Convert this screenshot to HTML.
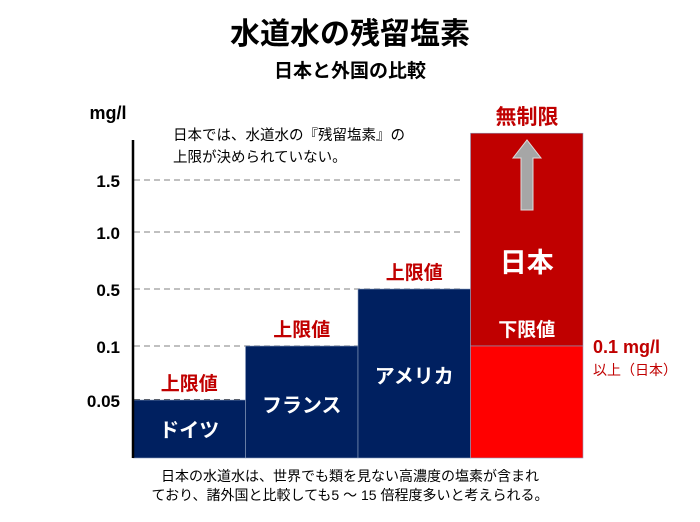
<!DOCTYPE html>
<html><head><meta charset="utf-8"><style>
body{margin:0;background:#fff;}
svg text{font-family:"Liberation Sans","Noto Sans CJK JP",sans-serif;}
</style></head><body>
<svg width="700" height="517" viewBox="0 0 700 517" xmlns="http://www.w3.org/2000/svg">
<text x="350" y="44" text-anchor="middle" font-size="30" font-weight="bold" fill="#000">水道水の残留塩素</text>
<text x="350" y="77" text-anchor="middle" font-size="19" font-weight="bold" fill="#000">日本と外国の比較</text>
<text x="108" y="119" text-anchor="middle" font-size="18" font-weight="bold">mg/l</text>
<text x="173" y="140" font-size="14.5">日本では、水道水の『残留塩素』の</text>
<text x="173" y="162" font-size="14.5">上限が決められていない。</text>
<g id="grid"></g>
<g id="bars"></g>
<line x1="133" y1="140" x2="133" y2="458" stroke="#000" stroke-width="2.5"/>
<g id="ticks"></g>
<text x="527" y="124" text-anchor="middle" font-size="21" font-weight="bold" fill="#C00000">無制限</text>
<polygon points="521,210 533,210 533,158 541,158 527,140 513,158 521,158" fill="#a6a6a6" stroke="#ddd" stroke-width="1"/>
<text x="593" y="353" font-size="18" font-weight="bold" fill="#C00000">0.1 mg/l</text>
<text x="593" y="375" font-size="14" fill="#C00000">以上（日本）</text>
<text x="350" y="481" text-anchor="middle" font-size="14">日本の水道水は、世界でも類を見ない高濃度の塩素が含まれ</text>
<text x="350" y="500" text-anchor="middle" font-size="14">ており、諸外国と比較しても5 ～ 15 倍程度多いと考えられる。</text>
</svg>
<script>
const tickValues=[0.05,0.1,0.5,1.0,1.5];
const tickLabels=["0.05","0.1","0.5","1.0","1.5"];
const countries=["ドイツ","フランス","アメリカ","日本"];
const limitValues=[0.05,0.1,0.5,1.95];
const japanMin=0.1;
const NS="http://www.w3.org/2000/svg";
const tickPos=[400,346,289,232,180];
function y(v){
  let i=0;
  while(i<tickValues.length-2 && v>tickValues[i+1]) i++;
  const v0=tickValues[i],v1=tickValues[i+1],p0=tickPos[i],p1=tickPos[i+1];
  return p0+(v-v0)/(v1-v0)*(p1-p0);
}
const x0=133,bw=112.5,base=458;
function x(i){return x0+i*bw;}
function mk(tag,attrs,parent){const e=document.createElementNS(NS,tag);for(const k in attrs)e.setAttribute(k,attrs[k]);document.getElementById(parent).appendChild(e);return e;}
const grid=document.getElementById('grid');
tickValues.forEach((v,i)=>{
  const yy=y(v);
  const gl=mk('line',{x1:134,x2:i===0?244:460,y1:yy,y2:yy,stroke:i===0?'#444':'#c0c0c0','stroke-width':2,'stroke-dasharray':'6,4'},'grid');
  
  
  const t=mk('text',{x:120,y:yy+7,'text-anchor':'end','font-size':17,'font-weight':'bold'},'ticks');
  t.textContent=tickLabels[i];
  
  
});
countries.forEach((c,i)=>{
  const top=y(limitValues[i]);
  if(i<3){
    const r=mk('rect',{x:x(i),y:top,width:bw,height:base-top,fill:'#002060',stroke:'#8ea0c0','stroke-width':0.6},'bars');
    
    
    const lbl=mk('text',{x:x(i)+bw/2,y:top-10,'text-anchor':'middle','font-size':19,'font-weight':'bold',fill:'#C00000'},'bars');
    lbl.textContent='上限値';
    
    
    const nm=mk('text',{x:x(i)+bw/2,y:i===0?437:(i===1?412:383),'text-anchor':'middle','font-size':20,'font-weight':'bold',fill:'#fff'},'bars');
    nm.textContent=c;
    
    
  } else {
    const ym=y(japanMin);
    const r1=mk('rect',{x:x(i),y:top,width:bw,height:ym-top,fill:'#C00000',stroke:'#8ea0c0','stroke-width':0.6},'bars');
    
    
    const r2=mk('rect',{x:x(i),y:ym,width:bw,height:base-ym,fill:'#FF0000',stroke:'#8ea0c0','stroke-width':0.6},'bars');
    
    
    const nm=mk('text',{x:x(i)+bw/2,y:272,'text-anchor':'middle','font-size':27,'font-weight':'bold',fill:'#fff'},'bars');
    nm.textContent=c;
    
    
    const ll=mk('text',{x:x(i)+bw/2,y:ym-10,'text-anchor':'middle','font-size':19,'font-weight':'bold',fill:'#fff'},'bars');
    ll.textContent='下限値';
    
    
  }
});
</script>
</body></html>
